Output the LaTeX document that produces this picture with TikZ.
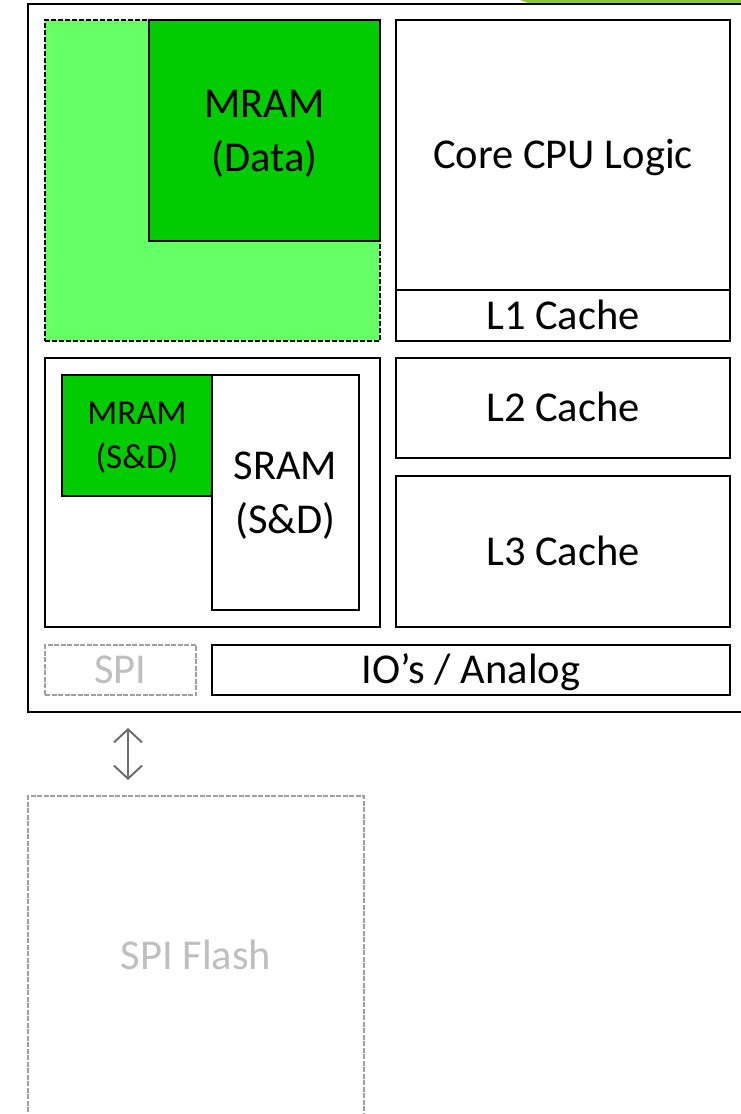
\documentclass[tikz,border=0pt]{standalone}
\usepackage{fontspec}
\setmainfont{Carlito}
\usetikzlibrary{arrows.meta}
\definecolor{lightgreen}{HTML}{66FF66}
\definecolor{darkgreen}{HTML}{00CC00}
\definecolor{topgreen}{HTML}{8CC63F}
\definecolor{ghost}{HTML}{BFBFBF}
\definecolor{ghostline}{HTML}{A0A0A0}
\definecolor{arrowgray}{HTML}{6E6E6E}
\tikzset{
  blk/.style={draw=black, line width=2.4pt, rectangle, anchor=north west, inner sep=0pt, outer sep=0pt},
  % one line of large text, centred on its cap height
  bigtxt/.style={font=\fontsize{42.5}{54}\selectfont, align=center, text height=27.2pt, text depth=0pt},
  % two lines of large text
  bigtwo/.style={font=\fontsize{42.5}{54}\selectfont, align=center, text height=81.2pt, text depth=0pt},
  % two lines of smaller text
  smalltwo/.style={font=\fontsize{35}{44}\selectfont, align=center, text height=66.4pt, text depth=0pt},
  ghostbox/.style={draw=ghostline, line width=2pt, dash pattern=on 5pt off 1.5pt, rectangle, anchor=north west, inner sep=0pt, outer sep=0pt},
}
\begin{document}
\begin{tikzpicture}[x=1pt,y=-1pt]
\useasboundingbox (0,0) rectangle (740,1114);
\fill[white] (0,0) rectangle (740,1114);
% green strip peeking in at the top edge
\fill[topgreen] (520,0) -- (760,0) -- (760,3) -- (528,3) -- cycle;
% chip outline
\node[blk, line width=2.8pt, minimum width=740pt, minimum height=708pt] (chip) at (28,4) {};
% data memory region
\node[draw=black, line width=1.8pt, dash pattern=on 5pt off 2pt, fill=lightgreen, rectangle, anchor=north west, inner sep=0pt, outer sep=0pt, minimum width=335pt, minimum height=321pt] (dataarea) at (45,20) {};
\node[blk, fill=darkgreen, minimum width=231pt, minimum height=221pt, bigtwo] (mramdata) at (149,20) {MRAM\\(Data)};
% core + caches
\node[blk, minimum width=334pt, minimum height=270pt, bigtxt] (core) at (396,20) {Core CPU Logic};
\node[blk, minimum width=334pt, minimum height=51pt, bigtxt] (l1) at (396,290) {L1 Cache};
\node[blk, minimum width=334pt, minimum height=100pt, bigtxt] (l2) at (396,358) {L2 Cache};
\node[blk, minimum width=334pt, minimum height=151pt, bigtxt] (l3) at (396,476) {L3 Cache};
% state & data memories
\node[blk, minimum width=335pt, minimum height=269pt] (sdarea) at (45,358) {};
\node[blk, minimum width=147pt, minimum height=235pt, bigtwo] (sram) at (212,375) {SRAM\\(S\&D)};
\node[blk, fill=darkgreen, minimum width=150pt, minimum height=121pt, smalltwo] (mramsd) at (62,375) {MRAM\\(S\&D)};
% interfaces
\node[ghostbox, minimum width=151pt, minimum height=50pt, bigtxt, text=ghost] (spi) at (45,645) {SPI};
\node[blk, minimum width=518pt, minimum height=50pt, bigtxt] (io) at (212,645) {IO’s / Analog};
% external flash
\node[ghostbox, minimum width=336pt, minimum height=330pt] (flash) at (28,796) {};
\node[bigtxt, text=ghost] (flashlbl) at (196,956) {SPI Flash};
% link between SPI and flash
\coordinate (lnkA) at (128,728);
\coordinate (lnkB) at (128,780);
\draw[arrowgray, line width=2pt, {Straight Barb[length=13pt,width=28pt,line width=2pt]}-{Straight Barb[length=13pt,width=28pt,line width=2pt]}] (lnkA) -- (lnkB);
\end{tikzpicture}
\end{document}
